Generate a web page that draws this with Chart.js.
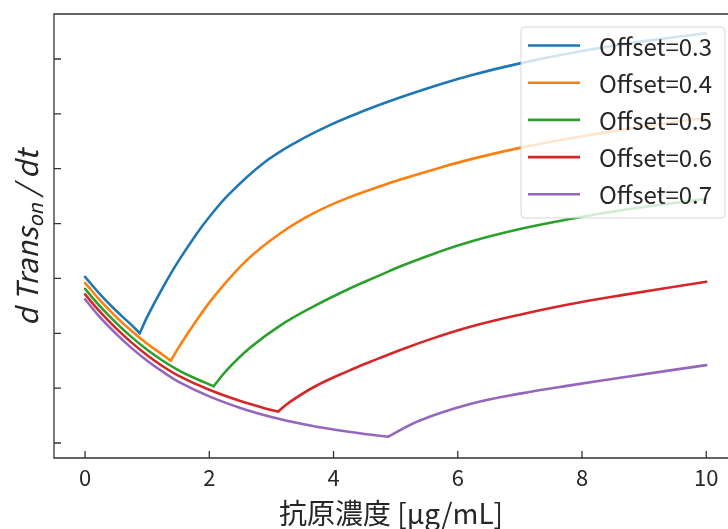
<!DOCTYPE html>
<html>
<head>
<meta charset="utf-8">
<script src="https://cdn.jsdelivr.net/npm/chart.js@4.4.1/dist/chart.umd.min.js"></script>
<style>
  html, body { margin: 0; padding: 0; background: #fff; overflow: hidden; }
  #wrap { width: 728px; height: 529px; }
</style>
</head>
<body>
<div id="wrap"><canvas id="c" width="728" height="529"></canvas></div>
<script>
// Series labels and colours (tab10)
const seriesNames = ['Offset=0.3', 'Offset=0.4', 'Offset=0.5', 'Offset=0.6', 'Offset=0.7'];
const seriesColors = ['#1f77b4', '#ff7f0e', '#2ca02c', '#d62728', '#9467bd'];

// Antigen concentration (x) and d Trans_on / dt (y) for each offset
const x03 = [0, 0.25, 0.5, 0.75, 0.88, 1.0, 1.26, 1.5, 1.8, 2.0, 2.33, 2.87, 3.41, 3.95, 4.5, 5.0, 5.67, 6.2, 7.0, 8.0, 9.0, 10.0];
const y03 = [3.03, 2.70, 2.41, 2.15, 2.00, 2.30, 2.85, 3.31, 3.82, 4.12, 4.55, 5.10, 5.49, 5.80, 6.06, 6.27, 6.52, 6.70, 6.92, 7.145, 7.325, 7.47];

const x04 = [0, 0.25, 0.5, 0.75, 1.0, 1.25, 1.38, 1.5, 1.75, 2.07, 2.6, 3.14, 3.68, 4.21, 4.75, 5.13, 5.66, 6.2, 7.0, 8.1, 9.18, 10.0];
const y04 = [2.92, 2.59, 2.30, 2.04, 1.81, 1.61, 1.50, 1.73, 2.16, 2.66, 3.33, 3.82, 4.19, 4.46, 4.68, 4.82, 5.00, 5.17, 5.38, 5.61, 5.80, 5.93];

const x05 = [0, 0.25, 0.5, 0.75, 1.0, 1.25, 1.5, 1.75, 2.07, 2.3, 2.66, 3.14, 3.68, 4.21, 4.75, 5.12, 5.66, 6.2, 7.0, 7.7, 8.67, 10.0];
const y05 = [2.81, 2.48, 2.19, 1.93, 1.70, 1.50, 1.33, 1.19, 1.035, 1.35, 1.74, 2.14, 2.49, 2.79, 3.06, 3.24, 3.47, 3.67, 3.90, 4.06, 4.25, 4.45];

const x06 = [0, 0.25, 0.5, 0.75, 1.0, 1.25, 1.5, 2.0, 2.5, 3.0, 3.11, 3.3, 3.7, 4.25, 4.59, 5.13, 5.66, 6.2, 7.0, 7.8, 8.67, 10.0];
const y06 = [2.71, 2.38, 2.09, 1.83, 1.60, 1.40, 1.23, 0.97, 0.765, 0.60, 0.575, 0.75, 1.03, 1.32, 1.48, 1.72, 1.93, 2.12, 2.34, 2.53, 2.70, 2.94];

const x07 = [0, 0.25, 0.5, 0.75, 1.0, 1.25, 1.5, 2.0, 2.5, 3.0, 3.5, 4.0, 4.5, 4.88, 5.39, 6.2, 7.0, 7.86, 8.67, 10.0];
const y07 = [2.62, 2.28, 1.99, 1.73, 1.50, 1.30, 1.12, 0.85, 0.64, 0.475, 0.345, 0.245, 0.165, 0.115, 0.41, 0.71, 0.90, 1.06, 1.20, 1.42];

const seriesX = [x03, x04, x05, x06, x07];
const seriesY = [y03, y04, y05, y06, y07];

// Tick positions
const xTicks = [0, 2, 4, 6, 8, 10];
const yTicks = [0, 1, 2, 3, 4, 5, 6, 7];

const FONT = '"Noto Sans CJK JP", "Noto Sans", sans-serif';
const INK = '#262626';
const LINE_W = 2.6;

// Each curve falls to a minimum and then rises again; the two branches are
// drawn as separate smooth pieces so the corner at the minimum stays sharp.
const datasets = [];
seriesNames.forEach((name, i) => {
  const pts = seriesX[i].map((x, j) => ({ x: x, y: seriesY[i][j] }));
  let k = 0;
  pts.forEach((p, j) => { if (p.y < pts[k].y) k = j; });
  [pts.slice(0, k + 1), pts.slice(k)].forEach(part => {
    datasets.push({
      label: name,
      data: part,
      borderColor: seriesColors[i],
      backgroundColor: seriesColors[i],
      borderWidth: LINE_W,
      borderJoinStyle: 'round',
      borderCapStyle: 'round',
      pointRadius: 0,
      tension: 0.4,
      fill: false
    });
  });
});

// Frame, inward ticks, y-axis label and in-plot legend
const framePlugin = {
  id: 'frame',
  afterDraw(chart) {
    const { ctx, chartArea: a, scales } = chart;
    const xs = scales.x, ys = scales.y;
    ctx.save();

    // spines
    ctx.strokeStyle = '#333';
    ctx.lineWidth = 1.3;
    ctx.beginPath();
    ctx.moveTo(a.right + 2, a.top);
    ctx.lineTo(a.left, a.top);
    ctx.lineTo(a.left, a.bottom);
    ctx.lineTo(a.right + 2, a.bottom);
    ctx.stroke();

    // inward tick marks
    ctx.beginPath();
    xTicks.forEach(v => {
      const px = xs.getPixelForValue(v);
      ctx.moveTo(px, a.bottom);
      ctx.lineTo(px, a.bottom - 7);
    });
    yTicks.forEach(v => {
      const py = ys.getPixelForValue(v);
      ctx.moveTo(a.left, py);
      ctx.lineTo(a.left + 7, py);
    });
    ctx.stroke();

    // y-axis label: d Trans_on / dt
    const cy = (a.top + a.bottom) / 2 + 2;
    const mainFont = 'italic 29px ' + FONT;
    const subFont = 'italic 20px ' + FONT;
    const parts = [
      { t: 'd Trans', f: mainFont, dy: 0 },
      { t: 'on', f: subFont, dy: 5 },
      { t: ' / dt', f: mainFont, dy: 0 }
    ];
    let total = 0;
    parts.forEach(p => { ctx.font = p.f; p.w = ctx.measureText(p.t).width; total += p.w; });
    ctx.translate(38, cy);
    ctx.rotate(-Math.PI / 2);
    ctx.fillStyle = INK;
    ctx.textBaseline = 'alphabetic';
    ctx.textAlign = 'left';
    let cx = -total / 2;
    parts.forEach(p => {
      ctx.font = p.f;
      ctx.fillText(p.t, cx, p.dy);
      cx += p.w;
    });
    ctx.setTransform(1, 0, 0, 1, 0, 0);

    // legend
    const lx = 521, ly = 27, lw = 204, lh = 191, r = 4;
    ctx.beginPath();
    ctx.moveTo(lx + r, ly);
    ctx.lineTo(lx + lw - r, ly);
    ctx.arcTo(lx + lw, ly, lx + lw, ly + r, r);
    ctx.lineTo(lx + lw, ly + lh - r);
    ctx.arcTo(lx + lw, ly + lh, lx + lw - r, ly + lh, r);
    ctx.lineTo(lx + r, ly + lh);
    ctx.arcTo(lx, ly + lh, lx, ly + lh - r, r);
    ctx.lineTo(lx, ly + r);
    ctx.arcTo(lx, ly, lx + r, ly, r);
    ctx.closePath();
    ctx.fillStyle = 'rgba(255,255,255,0.8)';
    ctx.fill();
    ctx.strokeStyle = 'rgba(204,204,204,0.8)';
    ctx.lineWidth = 1;
    ctx.stroke();

    ctx.font = '24px ' + FONT;
    ctx.textBaseline = 'middle';
    ctx.textAlign = 'left';
    seriesNames.forEach((name, i) => {
      const rowY = 45.5 + i * 37.2;
      ctx.strokeStyle = seriesColors[i];
      ctx.lineWidth = LINE_W;
      ctx.beginPath();
      ctx.moveTo(528, rowY);
      ctx.lineTo(580, rowY);
      ctx.stroke();
      ctx.fillStyle = INK;
      ctx.fillText(name, 599, rowY + 1);
    });

    ctx.restore();
  }
};

new Chart(document.getElementById('c'), {
  type: 'line',
  data: { datasets: datasets },
  options: {
    responsive: false,
    devicePixelRatio: 1,
    animation: false,
    layout: { padding: { top: 14, left: 0, right: 0, bottom: 0 } },
    plugins: { legend: { display: false }, tooltip: { enabled: false } },
    scales: {
      x: {
        type: 'linear',
        min: -0.5,
        max: 10.35,
        afterBuildTicks: s => { s.ticks = xTicks.map(v => ({ value: v })); },
        afterFit: s => { s.height = 71; },
        grid: { display: false, drawTicks: false },
        border: { display: false },
        ticks: {
          padding: 6,
          maxRotation: 0,
          autoSkip: false,
          color: INK,
          font: { family: FONT, size: 22 },
          callback: v => String(v)
        },
        title: {
          display: true,
          text: '抗原濃度 [μg/mL]',
          color: INK,
          font: { family: FONT, size: 28 },
          padding: { top: 0, bottom: -1 }
        }
      },
      y: {
        type: 'linear',
        min: -0.273,
        max: 7.82,
        afterFit: s => { s.width = 54; },
        grid: { display: false, drawTicks: false },
        border: { display: false },
        ticks: { display: false }
      }
    }
  },
  plugins: [framePlugin]
});
</script>
</body>
</html>
